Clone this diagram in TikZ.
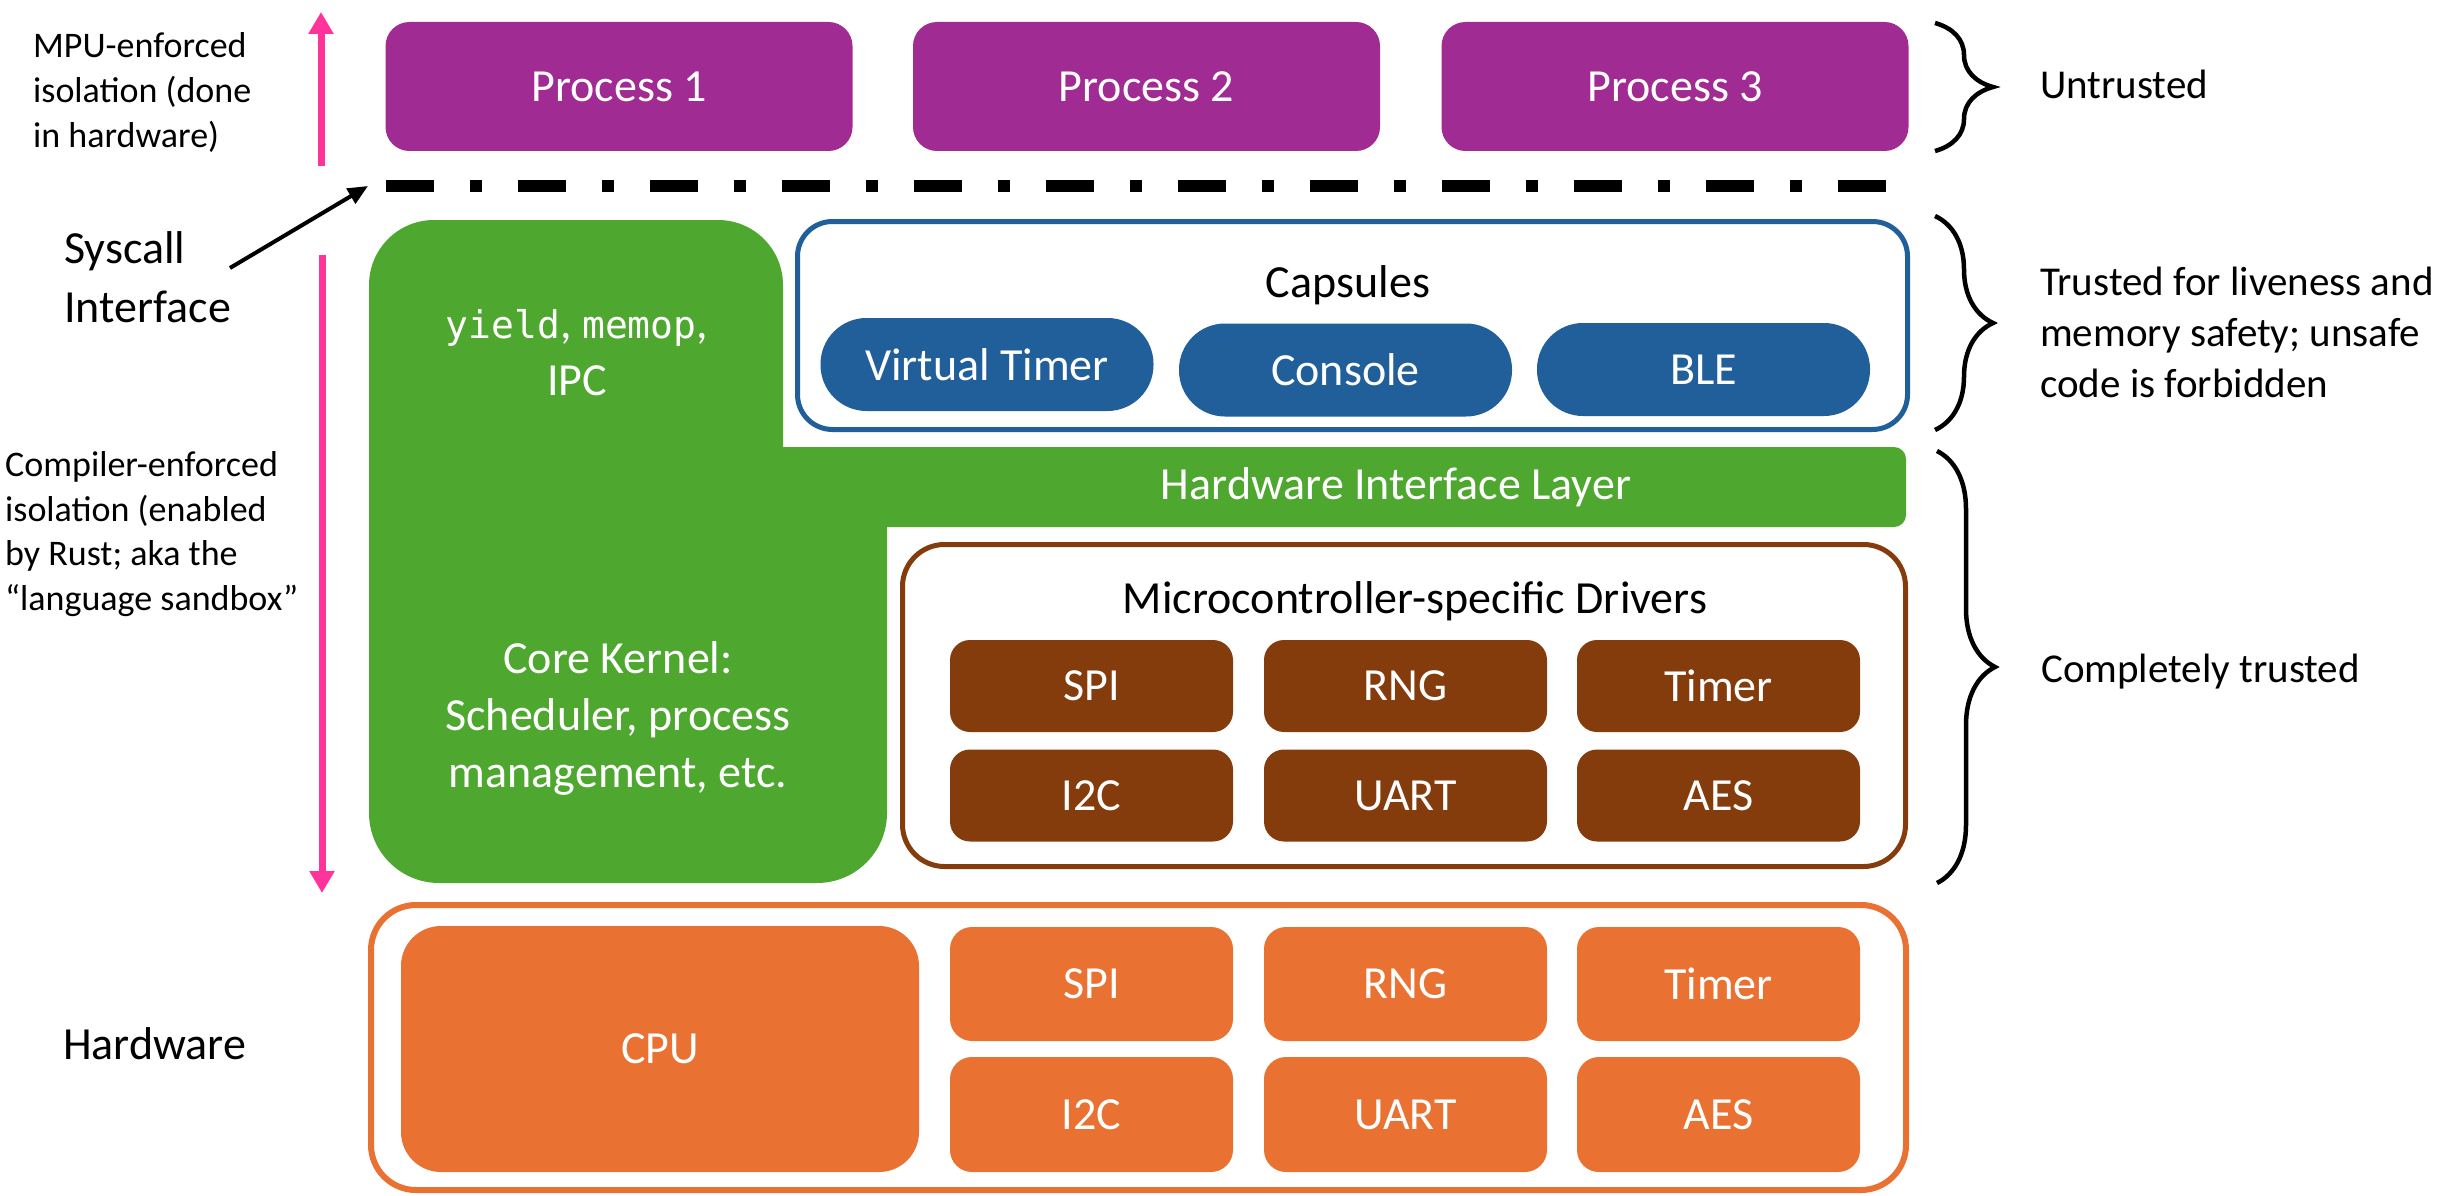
\documentclass[tikz,border=0pt]{standalone}
\usepackage{fontspec}
\setmainfont{Carlito}
\newfontfamily\codefont{DejaVu Sans Mono}
\usetikzlibrary{arrows.meta,decorations.pathreplacing}

\definecolor{procpurple}{HTML}{A02B93}
\definecolor{kgreen}{HTML}{4EA72E}
\definecolor{capblue}{HTML}{215F9A}
\definecolor{drvbrown}{HTML}{843C0C}
\definecolor{hworange}{HTML}{E97132}
\definecolor{isopink}{HTML}{FF3399}

\begin{document}
\begin{tikzpicture}[x=1pt,y=-1pt,
  bigfont/.style={font=\fontsize{46}{57}\selectfont},
  rightfont/.style={font=\fontsize{41}{51}\selectfont},
  leftfont/.style={font=\fontsize{36}{44.5}\selectfont},
  procbox/.style={fill=procpurple, rounded corners=24pt, minimum width=467pt, minimum height=129pt, inner sep=0pt, text=white, bigfont},
  pill/.style={fill=capblue, rounded corners=46pt, minimum width=333pt, minimum height=93pt, inner sep=0pt, text=white, bigfont},
  drvbox/.style={fill=drvbrown, rounded corners=20pt, minimum width=283pt, minimum height=92pt, inner sep=0pt, text=white, bigfont},
  hwbox/.style={fill=hworange, rounded corners=22pt, minimum width=283pt, minimum height=114pt, inner sep=0pt, text=white, bigfont},
  frame/.style={draw=#1, line width=5pt, fill=white, inner sep=0pt},
  boxtext/.style={inner sep=0pt, bigfont},
  pinkarrow/.style={draw=isopink, line width=7pt, -{Triangle[width=24pt,length=22pt]}},
  bracestyle/.style={draw=black, line width=4.5pt, decorate, decoration={brace, amplitude=58pt}},
  lbl/.style={inner sep=0pt, anchor=base west, align=left}
]
\useasboundingbox (0,0) rectangle (2458,1196);

% ---------- processes ----------
\node[procbox] (p1) at (619,86.5) {Process 1};
\node[procbox] (p2) at (1146.5,86.5) {Process 2};
\node[procbox] (p3) at (1675,86.5) {Process 3};

% ---------- syscall boundary ----------
\coordinate (dashL) at (386,186);
\coordinate (dashR) at (1886,186);
\draw[line width=12pt, dash pattern=on 48pt off 36pt on 12pt off 36pt] (dashL) -- (dashR);

% ---------- green kernel ----------
\fill[kgreen, rounded corners=65pt] (369,220) rectangle (783,600);
\fill[kgreen, rounded corners=70pt] (369,447) rectangle (887,883);
\fill[kgreen, rounded corners=12pt] (783,447) rectangle (1906,527);
\node[boxtext, text=white] (hil) at (1396,487) {Hardware Interface Layer};
\node[boxtext, text=white, align=center, anchor=base] (syscalls) at (577,395)
  {{\codefont\fontsize{38}{57}\selectfont yield}, {\codefont\fontsize{38}{57}\selectfont memop},\\IPC};
\node[boxtext, text=white, align=center, anchor=base] (core) at (618,787)
  {Core Kernel:\\Scheduler, process\\management, etc.};

% ---------- capsules ----------
\node[frame=capblue, rounded corners=35pt, minimum width=1110pt, minimum height=208pt] (capframe) at (1352.5,325.5) {};
\node[boxtext, anchor=base] (captitle) at (1348,297) {Capsules};
\node[pill] (vtimer) at (987,364.5) {Virtual Timer};
\node[pill] (console) at (1345.5,370) {Console};
\node[pill] (ble) at (1703.5,369.5) {BLE};

% ---------- drivers ----------
\node[frame=drvbrown, rounded corners=42pt, minimum width=1003pt, minimum height=322pt] (drvframe) at (1404,705.5) {};
\node[boxtext, anchor=base] (drvtitle) at (1415,613) {Microcontroller-specific Drivers};
\node[drvbox] (dspi) at (1091.5,686) {SPI};
\node[drvbox] (drng) at (1405.5,686) {RNG};
\node[drvbox] (dtimer) at (1718.5,686) {Timer};
\node[drvbox] (di2c) at (1091.5,795.5) {I2C};
\node[drvbox] (duart) at (1405.5,795.5) {UART};
\node[drvbox] (daes) at (1718.5,795.5) {AES};

% ---------- hardware ----------
\node[frame=hworange, line width=6pt, rounded corners=45pt, minimum width=1535pt, minimum height=285pt] (hwframe) at (1138.5,1047.5) {};
\node[fill=hworange, rounded corners=40pt, minimum width=518pt, minimum height=246pt, inner sep=0pt, text=white, bigfont] (cpu) at (660,1049) {CPU};
\node[hwbox] (hspi) at (1091.5,984) {SPI};
\node[hwbox] (hrng) at (1405.5,984) {RNG};
\node[hwbox] (htimer) at (1718.5,984) {Timer};
\node[hwbox, minimum height=115pt] (hi2c) at (1091.5,1114.5) {I2C};
\node[hwbox, minimum height=115pt] (huart) at (1405.5,1114.5) {UART};
\node[hwbox, minimum height=115pt] (haes) at (1718.5,1114.5) {AES};

% ---------- left labels ----------
\node[lbl, leftfont] (mpu) at (33,147) {MPU-enforced\\isolation (done\\in hardware)};
\node[lbl, leftfont] (compiler) at (5,610) {Compiler-enforced\\isolation (enabled\\by Rust; aka the\\“language sandbox”};
\node[lbl, font=\fontsize{46}{59}\selectfont] (syscall) at (64,322) {Syscall\\Interface};
\node[lbl, bigfont] (hwlabel) at (63,1059) {Hardware};

\coordinate (mpubase) at (321,166);
\coordinate (mputip) at (321,12);
\draw[pinkarrow] (mpubase) -- (mputip);
\coordinate (compbase) at (322,255);
\coordinate (comptip) at (322,893);
\draw[pinkarrow] (compbase) -- (comptip);

\coordinate (sysstart) at (230,268);
\coordinate (systip) at (368,186);
\draw[line width=4pt, -{Triangle[width=17pt,length=20pt]}] (sysstart) -- (systip);

% ---------- braces and right labels ----------
\coordinate (b1t) at (1935,23);
\coordinate (b1b) at (1935,151);
\draw[bracestyle] (b1t) -- (b1b);
\coordinate (b2t) at (1935,216);
\coordinate (b2b) at (1935,430);
\draw[bracestyle] (b2t) -- (b2b);
\coordinate (b3t) at (1937,451);
\coordinate (b3b) at (1937,883);
\draw[bracestyle] (b3t) -- (b3b);

\node[lbl, rightfont] (untrusted) at (2040,99) {Untrusted};
\node[lbl, rightfont] (liveness) at (2040,397) {Trusted for liveness and\\memory safety; unsafe\\code is forbidden};
\node[lbl, rightfont] (complete) at (2041,682) {Completely trusted};
\end{tikzpicture}
\end{document}
